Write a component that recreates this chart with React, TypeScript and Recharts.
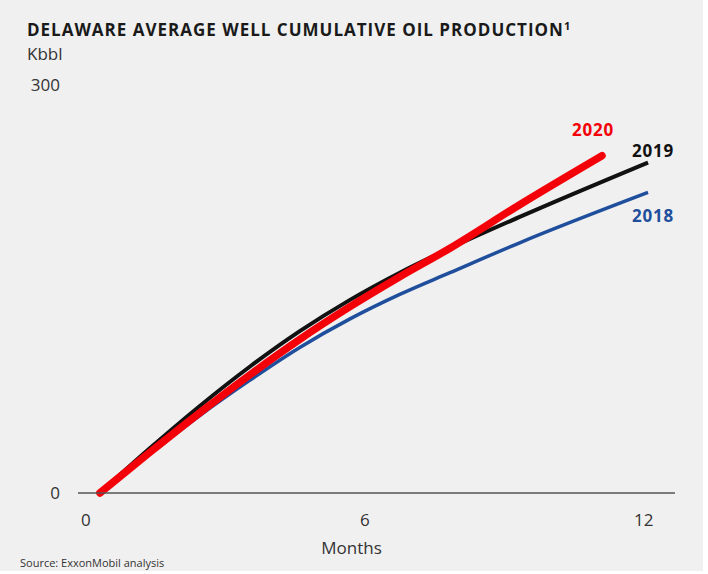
import React from 'react';
import { LineChart, Line, XAxis, YAxis } from 'recharts';

const FONT = '"Open Sans", "Noto Sans", sans-serif';

const MONTH_TICKS = [0, 6, 12];
const KBBL_TICKS = [0, 300];

// cumulative production, Kbbl
const SERIES_2018 = [
  { m: 0.3, v: 0 },
  { m: 1.38, v: 29 },
  { m: 2.45, v: 57 },
  { m: 3.53, v: 83 },
  { m: 4.6, v: 107 },
  { m: 5.68, v: 128 },
  { m: 6.75, v: 146 },
  { m: 7.83, v: 162 },
  { m: 9.33, v: 184 },
  { m: 12.09, v: 221 },
];

const SERIES_2019 = [
  { m: 0.3, v: 0 },
  { m: 1.38, v: 33 },
  { m: 2.45, v: 64 },
  { m: 3.53, v: 93 },
  { m: 4.6, v: 119 },
  { m: 5.68, v: 142 },
  { m: 6.75, v: 162 },
  { m: 7.83, v: 180 },
  { m: 9.33, v: 203 },
  { m: 12.09, v: 243 },
];

const SERIES_2020 = [
  { m: 0.3, v: 0 },
  { m: 1.38, v: 30 },
  { m: 2.45, v: 59 },
  { m: 3.53, v: 87 },
  { m: 4.6, v: 113 },
  { m: 5.68, v: 137 },
  { m: 6.75, v: 159 },
  { m: 7.83, v: 180 },
  { m: 9.33, v: 212 },
  { m: 11.1, v: 248 },
];

const COLORS = { y2018: '#1f4f9c', y2019: '#111111', y2020: '#f40009' };

const txt = (extra: React.CSSProperties): React.CSSProperties => ({
  position: 'absolute',
  fontFamily: FONT,
  whiteSpace: 'nowrap',
  lineHeight: 1,
  ...extra,
});

export default function App() {
  return (
    <div
      style={{
        position: 'absolute',
        left: 0,
        top: 0,
        width: 703,
        height: 571,
        background: '#f0f0f0',
        overflow: 'hidden',
      }}
    >
      <LineChart
        width={703}
        height={571}
        margin={{ top: 85, right: 28, left: 28, bottom: 0 }}
      >
        <XAxis
          type="number"
          dataKey="m"
          domain={[-0.17, 12.67]}
          ticks={MONTH_TICKS}
          allowDataOverflow
          height={78}
          tickSize={0}
          tickMargin={21}
          axisLine={{ stroke: '#555', strokeWidth: 1.5 }}
          tick={{ fontSize: 17, fill: '#333', fontFamily: FONT }}
        />
        <YAxis
          type="number"
          dataKey="v"
          domain={[0, 300]}
          ticks={KBBL_TICKS}
          width={50}
          tickSize={0}
          tickMargin={18}
          axisLine={false}
          tick={{ fontSize: 17, fill: '#333', fontFamily: FONT }}
        />
        <Line
          data={SERIES_2018}
          dataKey="v"
          type="monotone"
          stroke={COLORS.y2018}
          strokeWidth={3.5}
          dot={false}
          isAnimationActive={false}
        />
        <Line
          data={SERIES_2019}
          dataKey="v"
          type="monotone"
          stroke={COLORS.y2019}
          strokeWidth={4}
          dot={false}
          isAnimationActive={false}
        />
        <Line
          data={SERIES_2020}
          dataKey="v"
          type="monotone"
          stroke={COLORS.y2020}
          strokeWidth={7.5}
          strokeLinecap="round"
          dot={false}
          isAnimationActive={false}
        />
      </LineChart>

      <div
        style={txt({
          left: 27,
          top: 21,
          fontSize: 17,
          fontWeight: 700,
          letterSpacing: 1,
          color: '#1a1a1a',
        })}
      >
        DELAWARE AVERAGE WELL CUMULATIVE OIL PRODUCTION
        <span style={{ fontSize: 11, position: 'relative', top: -6 }}>1</span>
      </div>
      <div style={txt({ left: 27, top: 45, fontSize: 17, color: '#333' })}>Kbbl</div>
      <div style={txt({ left: 0, width: 703, textAlign: 'center', top: 539, fontSize: 17, color: '#333' })}>
        Months
      </div>
      <div style={txt({ left: 20, top: 557, fontSize: 11, color: '#333' })}>
        Source: ExxonMobil analysis
      </div>

      <div style={txt({ left: 572, top: 121, fontSize: 17, fontWeight: 700, letterSpacing: 0.8, color: COLORS.y2020 })}>2020</div>
      <div style={txt({ left: 632, top: 142, fontSize: 17, fontWeight: 700, letterSpacing: 0.8, color: COLORS.y2019 })}>2019</div>
      <div style={txt({ left: 632, top: 207, fontSize: 17, fontWeight: 700, letterSpacing: 0.8, color: COLORS.y2018 })}>2018</div>
    </div>
  );
}
